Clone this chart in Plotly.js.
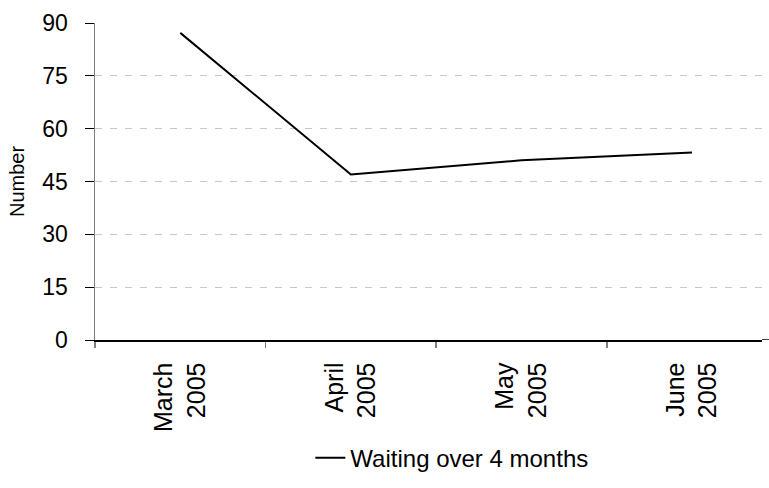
<!DOCTYPE html>
<html>
<head>
<meta charset="utf-8">
<script src="https://cdn.plot.ly/plotly-3.0.1.min.js"></script>
<style>html,body{margin:0;padding:0;background:#fff;}#chart{width:769px;height:488px;}</style>
</head>
<body>
<div id="chart"></div>
<script>
var months = ["March<br>2005", "April<br>2005", "May<br>2005", "June<br>2005"];
var waiting = [87.2, 47, 51, 53.2];
var seriesName = "Waiting over 4 months";
var yTicks = [0, 15, 30, 45, 60, 75, 90];

var font = "Liberation Sans, Arial, sans-serif";
var trace = {
  x: months, y: waiting, type: "scatter", mode: "lines", name: seriesName,
  line: {color: "#000000", width: 2}
};
var layout = {
  width: 769, height: 488,
  margin: {l: 95, r: 7, t: 23, b: 143, pad: 0},
  paper_bgcolor: "#ffffff", plot_bgcolor: "#ffffff",
  font: {family: font, color: "#000000", size: 21},
  showlegend: true,
  legend: {orientation: "h", x: 0.535, xanchor: "center", y: -0.373, yanchor: "middle",
    font: {family: font, size: 24, color: "#000000"}, bgcolor: "rgba(0,0,0,0)"},
  xaxis: {
    type: "category", range: [-0.5, 3.41], tickangle: -90, tickson: "boundaries",
    ticks: "outside", ticklen: 6, tickcolor: "#808080", tickwidth: 1.5,
    showline: true, linecolor: "#000000", linewidth: 1.5,
    showgrid: false, zeroline: false, ticklabelstandoff: 11,
    tickfont: {family: font, size: 25, color: "#000000"}
  },
  yaxis: {
    range: [0, 90], tickvals: yTicks, ticktext: yTicks.map(String),
    ticks: "outside", ticklen: 9, tickcolor: "#000000", tickwidth: 1,
    showline: true, linecolor: "#808080", linewidth: 1.5,
    showgrid: true, gridcolor: "#c8c8c8", gridwidth: 1, griddash: "7px,8px",
    zeroline: false, ticklabelstandoff: 12,
    tickfont: {family: font, size: 23, color: "#000000"},
    title: {text: "Number", font: {family: font, size: 20, color: "#000000"}, standoff: 12},
    automargin: false
  },
  shapes: [{type: "line", xref: "paper", yref: "y", x0: 1, x1: 1.012, y0: 0, y1: 0,
    line: {color: "#000000", width: 1.5}}]
};
Plotly.newPlot("chart", [trace], layout, {displayModeBar: false, staticPlot: true});
</script>
</body>
</html>
